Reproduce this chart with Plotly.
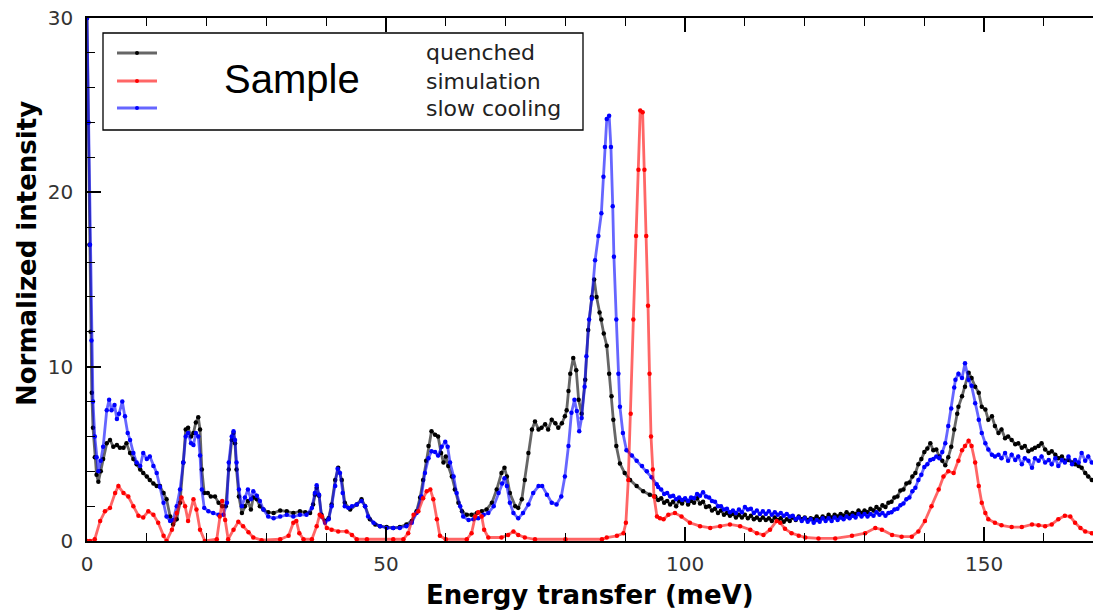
import plotly.graph_objects as go

# ---------------- data (energy transfer meV, normalized intensity) ----------------
quenched = [
    (0, 30.0), (0.2, 24.0), (0.4, 17.0), (0.6, 12.0), (0.8, 8.5), (1.0, 6.5), (1.3, 4.8), (1.6, 3.8),
    (1.9, 3.4), (2.3, 4.0), (2.7, 4.7), (3.3, 5.6), (3.85, 5.8), (4.4, 5.4), (5.0, 5.5), (5.5, 5.35),
    (6.1, 5.35), (6.6, 5.6), (7.2, 5.05), (7.75, 4.7), (8.3, 4.4), (8.9, 4.1), (9.4, 3.9), (10.0, 3.7),
    (10.5, 3.5), (11.1, 3.3), (11.65, 3.15), (12.2, 3.15), (12.8, 2.75), (13.3, 2.4), (13.9, 1.4),
    (14.4, 0.95), (15.0, 1.25), (15.55, 2.2), (16.1, 4.5), (16.5, 6.4), (16.9, 6.5), (17.4, 6.0),
    (17.8, 6.2), (18.2, 6.8), (18.6, 7.1), (18.9, 6.4), (19.2, 4.1), (19.6, 2.75), (20.2, 2.75),
    (20.7, 2.55), (21.4, 2.55), (22.0, 2.2), (22.6, 2.0), (23.2, 2.0), (23.7, 4.1), (24.2, 5.8),
    (24.5, 6.2), (24.75, 5.6), (25.0, 4.1), (25.4, 2.55), (25.9, 1.6), (26.4, 2.0), (26.9, 2.3),
    (27.4, 1.8), (27.8, 2.5), (28.4, 2.4), (28.9, 2.0), (29.5, 1.8), (30.3, 1.65), (31.2, 1.6),
    (32.3, 1.75), (33.4, 1.7), (34.5, 1.6), (35.6, 1.7), (36.5, 1.65), (37.3, 1.6), (37.8, 2.1),
    (38.1, 2.65), (38.4, 3.05), (38.8, 2.6), (39.2, 1.5), (39.8, 1.15), (40.4, 1.3), (40.9, 2.1),
    (41.5, 3.5), (42.0, 4.2), (42.6, 3.5), (43.1, 2.2), (44.0, 1.8), (45.1, 2.1), (45.9, 2.4),
    (46.5, 2.0), (47.3, 1.25), (48.2, 0.95), (49.0, 0.85), (50.1, 0.8), (51.2, 0.75), (52.3, 0.8),
    (53.4, 0.95), (54.3, 1.15), (55.1, 1.7), (55.7, 2.5), (56.2, 3.5), (56.7, 4.6), (57.1, 5.45),
    (57.6, 6.3), (58.2, 6.1), (58.7, 6.0), (59.2, 5.05), (59.6, 4.5), (60.0, 4.85), (60.4, 4.3),
    (61.0, 3.7), (61.5, 2.95), (62.1, 2.2), (62.7, 1.7), (63.5, 1.5), (64.3, 1.5), (65.2, 1.6),
    (66.0, 1.7), (66.8, 1.8), (67.7, 2.2), (68.5, 2.95), (69.3, 3.9), (69.8, 4.2), (70.2, 3.7),
    (70.7, 2.75), (71.6, 2.0), (72.1, 1.9), (72.7, 2.4), (73.2, 3.5), (73.8, 5.05), (74.4, 6.4),
    (74.9, 6.85), (75.5, 6.4), (76.0, 6.5), (76.6, 6.7), (77.1, 6.4), (77.7, 6.95), (78.3, 6.75),
    (78.8, 6.5), (79.4, 6.75), (79.9, 7.15), (80.2, 7.5), (80.5, 8.6), (80.8, 9.6), (81.3, 10.5),
    (81.8, 9.8), (82.2, 8.1), (82.7, 7.3), (83.3, 9.25), (83.8, 12.1), (84.4, 14.0), (84.8, 15.0),
    (85.2, 14.0), (85.7, 13.1), (86.0, 12.7), (86.4, 11.9), (86.9, 11.2), (87.3, 9.6), (87.7, 8.3),
    (88.0, 6.95), (88.5, 5.45), (89.1, 4.45), (89.9, 3.9), (90.8, 3.5), (91.9, 3.15), (93.0, 2.85),
    (94.1, 2.65), (95.0, 2.55), (95.5, 2.35), (96.0, 2.45), (96.5, 2.2), (97.0, 2.3), (97.5, 2.1),
    (98.0, 2.25), (98.5, 2.0), (99.0, 2.3), (99.5, 2.15), (100.0, 2.4), (100.5, 2.1), (101.0, 2.3),
    (101.5, 2.2), (102.0, 2.45), (102.5, 2.15), (103.0, 2.25), (103.5, 1.95), (104.0, 2.0),
    (104.5, 1.75), (105.0, 1.85), (105.5, 1.6), (106.0, 1.75), (106.5, 1.5), (107.0, 1.6),
    (107.5, 1.45), (108.0, 1.55), (108.5, 1.35), (109.0, 1.5), (109.5, 1.35), (110.0, 1.5),
    (110.5, 1.3), (111.0, 1.45), (111.5, 1.25), (112.0, 1.35), (112.5, 1.2), (113.0, 1.35),
    (113.5, 1.2), (114.0, 1.3), (114.5, 1.15), (115.0, 1.35), (115.5, 1.2), (116.0, 1.3),
    (116.5, 1.1), (117.0, 1.25), (117.5, 1.15), (118.0, 1.35), (118.5, 1.2), (119.0, 1.4),
    (119.5, 1.25), (120.0, 1.35), (120.5, 1.2), (121.0, 1.3), (121.5, 1.25), (122.0, 1.4),
    (122.5, 1.25), (123.0, 1.4), (123.5, 1.3), (124.0, 1.5), (124.5, 1.35), (125.0, 1.5),
    (125.5, 1.4), (126.0, 1.55), (126.5, 1.45), (127.0, 1.65), (127.5, 1.5), (128.0, 1.6),
    (128.5, 1.55), (129.0, 1.75), (129.5, 1.6), (130.0, 1.75), (130.5, 1.65), (131.0, 1.85),
    (131.5, 1.75), (132.0, 1.95), (132.5, 1.8), (133.0, 2.05), (133.5, 1.95), (134.0, 2.2),
    (134.5, 2.25), (135.0, 2.5), (135.5, 2.55), (136.0, 2.9), (136.5, 2.95), (137.0, 3.3),
    (137.5, 3.35), (138.0, 3.7), (138.5, 3.9), (139.0, 4.4), (139.5, 4.7), (140.0, 5.1),
    (140.5, 5.3), (141.0, 5.6), (141.5, 5.2), (142.0, 5.25), (142.5, 4.85), (143.0, 4.6),
    (143.5, 4.35), (144.0, 4.8), (144.5, 5.4), (145.0, 6.4), (145.5, 7.3), (145.7, 7.7),
    (146.3, 8.3), (146.8, 8.85), (147.4, 9.65), (147.9, 9.35), (148.5, 8.85), (149.1, 8.5),
    (149.6, 7.7), (150.2, 7.55), (150.7, 6.95), (151.3, 7.15), (151.8, 6.6), (152.4, 6.2),
    (152.9, 6.4), (153.5, 5.9), (154.0, 6.0), (154.6, 5.8), (155.2, 5.55), (155.7, 5.6),
    (156.3, 5.35), (156.8, 5.45), (157.4, 5.15), (158.0, 5.25), (158.5, 5.35), (159.1, 5.45),
    (159.6, 5.6), (160.2, 5.25), (160.8, 5.05), (161.3, 5.15), (161.9, 4.95), (162.4, 4.75),
    (163.0, 4.85), (163.5, 4.6), (164.1, 4.65), (164.7, 4.5), (165.2, 4.4), (165.8, 4.3),
    (166.3, 4.2), (166.9, 3.9), (167.4, 3.7), (168.0, 3.5),
]

simulation = [
    (0, 0.0), (0.5, 0.0), (1.3, 0.1), (2.2, 1.15), (3.0, 1.7), (3.85, 1.9), (4.7, 2.75), (5.25, 3.15),
    (6.1, 2.75), (6.9, 2.55), (7.75, 2.0), (8.6, 1.45), (9.4, 1.35), (10.25, 1.7), (11.1, 1.5),
    (11.9, 1.05), (12.8, 0.3), (13.3, 0.0), (14.2, 0.65), (15.0, 1.6), (15.8, 2.5), (16.4, 2.0),
    (16.9, 1.15), (17.8, 2.4), (18.3, 1.8), (18.9, 0.65), (19.7, 0.0), (21.7, 0.1), (22.2, 1.4),
    (22.6, 2.3), (23.1, 1.2), (23.6, 0.1), (24.5, 0.65), (25.3, 1.1), (26.1, 0.85), (27.0, 0.5),
    (27.8, 0.2), (29.2, 0.05), (32.3, 0.1), (33.7, 0.3), (34.5, 1.05), (35.0, 1.15), (35.5, 0.45),
    (36.2, 0.1), (37.6, 0.1), (38.4, 0.85), (38.9, 1.5), (39.3, 1.4), (40.1, 0.75), (40.9, 0.65),
    (42.0, 0.55), (43.4, 0.55), (44.3, 0.35), (45.1, 0.1), (46.8, 0.1), (51.2, 0.1), (52.9, 0.1),
    (53.7, 0.45), (54.6, 1.5), (55.4, 1.7), (56.2, 2.45), (56.8, 2.85), (57.4, 2.95), (57.9, 2.4),
    (58.5, 1.25), (59.0, 0.3), (60.0, 0.1), (63.5, 0.1), (64.3, 0.45), (64.9, 1.4), (65.4, 1.65),
    (66.0, 1.4), (66.4, 0.65), (67.1, 0.2), (69.3, 0.2), (70.4, 0.35), (71.3, 0.55), (72.1, 0.35),
    (73.2, 0.2), (74.9, 0.1), (80.0, 0.1), (86.1, 0.1), (86.9, 0.2), (88.6, 0.3), (89.7, 0.45),
    (90.1, 1.05), (90.5, 3.5), (90.9, 7.3), (91.35, 12.7), (91.8, 17.5), (92.2, 21.3), (92.5, 24.7),
    (92.9, 24.6), (93.2, 21.3), (93.5, 17.5), (93.8, 13.5), (94.05, 9.6), (94.3, 6.0), (94.6, 4.1),
    (94.8, 2.55), (95.3, 1.4), (95.8, 1.3), (96.4, 1.25), (97.2, 1.5), (98.3, 1.6), (99.4, 1.4),
    (100.8, 1.05), (102.5, 0.85), (104.2, 0.75), (105.85, 0.85), (107.5, 0.95), (109.2, 0.85),
    (110.9, 0.65), (112.0, 0.45), (113.1, 0.35), (114.2, 0.65), (115.3, 1.15), (115.9, 1.05),
    (116.7, 0.7), (117.8, 0.45), (119.0, 0.3), (120.1, 0.2), (122.3, 0.15), (125.1, 0.15),
    (127.9, 0.3), (130.1, 0.45), (131.8, 0.75), (132.9, 0.65), (134.6, 0.35), (136.2, 0.25),
    (137.9, 0.25), (139.0, 0.55), (140.1, 1.15), (141.2, 2.0), (142.4, 2.95), (143.2, 3.7),
    (144.0, 4.0), (144.9, 3.9), (145.7, 4.6), (146.3, 5.2), (146.8, 5.45), (147.4, 5.75),
    (147.9, 5.45), (148.5, 4.5), (149.1, 3.15), (149.6, 2.2), (150.2, 1.6), (150.7, 1.25),
    (151.8, 1.05), (152.9, 0.9), (154.6, 0.8), (156.3, 0.8), (158.0, 0.95), (159.1, 0.9),
    (160.2, 0.85), (161.3, 0.95), (162.4, 1.25), (163.5, 1.45), (164.4, 1.4), (165.2, 1.05),
    (166.1, 0.75), (166.9, 0.55), (168.0, 0.45),
]

slow_cooling = [
    (0, 30.0), (0.25, 24.0), (0.5, 17.0), (0.75, 11.5), (1.0, 8.0), (1.3, 6.0), (1.6, 4.8), (1.9, 4.0),
    (2.3, 4.6), (2.7, 5.4), (3.3, 7.5), (3.7, 8.1), (4.1, 7.5), (4.6, 7.8), (5.0, 7.0), (5.35, 7.3),
    (5.9, 8.0), (6.35, 7.15), (6.8, 6.2), (7.2, 5.8), (7.75, 5.05), (8.3, 4.5), (8.9, 4.3), (9.4, 5.05),
    (10.0, 4.7), (10.5, 4.85), (11.1, 4.3), (11.65, 3.9), (12.2, 3.1), (12.8, 2.2), (13.3, 1.4),
    (13.9, 1.15), (14.4, 1.2), (15.0, 2.0), (15.55, 2.95), (16.1, 4.5), (16.5, 6.0), (16.9, 6.2),
    (17.4, 5.6), (17.8, 5.5), (18.2, 6.2), (18.6, 6.0), (18.9, 4.9), (19.2, 2.95), (19.6, 1.9),
    (20.3, 1.7), (21.1, 1.6), (22.0, 1.5), (22.8, 1.5), (23.4, 2.2), (23.7, 4.5), (24.2, 6.0),
    (24.5, 6.3), (24.75, 5.8), (25.0, 4.5), (25.4, 2.95), (25.9, 2.0), (26.4, 2.5), (26.9, 2.95),
    (27.4, 2.4), (27.8, 2.85), (28.4, 2.6), (28.9, 2.3), (29.5, 1.8), (30.3, 1.4), (31.2, 1.3),
    (32.3, 1.4), (33.4, 1.5), (34.5, 1.4), (35.6, 1.5), (36.7, 1.5), (37.6, 1.9), (38.1, 2.75),
    (38.4, 3.2), (38.8, 2.65), (39.2, 1.4), (39.8, 1.05), (40.4, 1.25), (40.9, 2.0), (41.5, 3.15),
    (41.9, 4.15), (42.3, 3.9), (42.75, 2.75), (43.1, 2.0), (43.7, 1.9), (44.3, 2.0), (45.1, 2.1),
    (45.9, 2.3), (46.5, 2.0), (47.0, 1.4), (47.9, 1.05), (49.0, 0.85), (50.1, 0.75), (51.2, 0.75),
    (52.3, 0.75), (53.4, 0.85), (54.3, 1.05), (55.1, 1.6), (55.9, 2.55), (56.5, 3.9), (57.1, 4.75),
    (57.6, 5.15), (58.2, 5.1), (58.7, 4.9), (59.3, 5.4), (59.9, 5.7), (60.3, 5.4), (60.7, 4.5),
    (61.3, 3.7), (61.8, 2.75), (62.4, 2.0), (62.9, 1.4), (63.8, 1.2), (64.6, 1.25), (65.4, 1.3),
    (66.3, 1.5), (67.1, 1.6), (68.0, 2.0), (68.8, 2.75), (69.4, 3.3), (69.8, 3.6), (70.2, 3.15),
    (70.7, 2.2), (71.3, 1.6), (72.1, 1.3), (72.9, 1.6), (73.8, 2.1), (74.6, 2.75), (75.5, 3.15),
    (76.1, 3.15), (76.9, 2.65), (77.7, 2.2), (78.5, 2.1), (79.3, 2.55), (79.9, 3.7), (80.5, 5.45),
    (81.0, 7.35), (81.5, 8.1), (81.9, 7.45), (82.3, 6.3), (82.7, 7.05), (83.2, 8.85), (83.5, 10.6),
    (83.95, 12.7), (84.4, 13.9), (84.95, 16.1), (85.5, 17.5), (86.0, 18.8), (86.35, 20.9),
    (86.6, 22.6), (86.9, 24.2), (87.3, 24.4), (87.6, 22.6), (87.9, 19.2), (88.1, 16.3), (88.5, 12.7),
    (88.85, 9.6), (89.1, 7.7), (89.6, 6.2), (90.2, 5.2), (91.1, 4.9), (91.9, 4.6), (92.8, 4.3),
    (93.6, 4.0), (94.4, 3.65), (95.25, 3.25), (95.5, 3.1), (96.0, 2.95), (96.5, 2.7), (97.0, 2.75),
    (97.5, 2.55), (98.0, 2.6), (98.5, 2.4), (99.0, 2.5), (99.5, 2.35), (100.0, 2.45), (100.5, 2.3),
    (101.0, 2.5), (101.5, 2.45), (102.0, 2.7), (102.5, 2.6), (103.0, 2.8), (103.5, 2.55), (104.0, 2.5),
    (104.5, 2.3), (105.0, 2.25), (105.5, 2.0), (106.0, 2.0), (106.5, 1.8), (107.0, 1.85),
    (107.5, 1.65), (108.0, 1.75), (108.5, 1.6), (109.0, 1.8), (109.5, 1.65), (110.0, 1.95),
    (110.5, 1.8), (111.0, 1.85), (111.5, 1.6), (112.0, 1.75), (112.5, 1.55), (113.0, 1.7),
    (113.5, 1.55), (114.0, 1.7), (114.5, 1.5), (115.0, 1.65), (115.5, 1.5), (116.0, 1.6),
    (116.5, 1.45), (117.0, 1.55), (117.5, 1.4), (118.0, 1.45), (118.5, 1.25), (119.0, 1.35),
    (119.5, 1.15), (120.0, 1.3), (120.5, 1.1), (121.0, 1.25), (121.5, 1.05), (122.0, 1.2),
    (122.5, 1.1), (123.0, 1.3), (123.5, 1.15), (124.0, 1.3), (124.5, 1.15), (125.0, 1.35),
    (125.5, 1.2), (126.0, 1.35), (126.5, 1.25), (127.0, 1.4), (127.5, 1.3), (128.0, 1.45),
    (128.5, 1.35), (129.0, 1.55), (129.5, 1.4), (130.0, 1.55), (130.5, 1.4), (131.0, 1.55),
    (131.5, 1.45), (132.0, 1.65), (132.5, 1.5), (133.0, 1.6), (133.5, 1.45), (134.0, 1.6),
    (134.5, 1.65), (135.0, 1.8), (135.5, 1.85), (136.0, 2.05), (136.5, 2.15), (137.0, 2.4),
    (137.5, 2.5), (138.0, 2.85), (138.5, 3.05), (139.0, 3.5), (139.5, 3.8), (140.0, 4.25),
    (140.5, 4.4), (141.0, 4.65), (141.5, 4.7), (142.0, 4.85), (142.5, 4.75), (143.0, 5.1),
    (143.5, 5.6), (144.0, 6.6), (144.5, 7.6), (145.0, 8.8), (145.2, 9.25), (145.7, 9.6),
    (146.3, 9.35), (146.8, 10.2), (147.4, 9.25), (147.9, 8.9), (148.5, 7.9), (149.1, 6.95),
    (149.6, 6.2), (150.2, 5.6), (150.7, 5.25), (151.3, 4.95), (151.8, 4.85), (152.4, 4.95),
    (152.9, 4.75), (153.5, 5.05), (154.0, 4.6), (154.6, 4.95), (155.2, 4.65), (155.7, 4.85),
    (156.3, 4.4), (156.8, 4.75), (157.4, 4.6), (158.0, 4.2), (158.5, 4.75), (159.1, 4.6),
    (159.6, 4.85), (160.2, 4.5), (160.8, 4.65), (161.3, 4.4), (161.9, 4.75), (162.4, 4.3),
    (163.0, 4.65), (163.5, 4.5), (164.1, 4.85), (164.7, 4.4), (165.2, 4.65), (165.8, 4.5),
    (166.3, 5.05), (166.9, 4.6), (167.4, 4.85), (168.0, 4.5),
]

series_names = ["quenched", "simulation", "slow cooling"]
x_ticks = [0, 50, 100, 150]
y_ticks = [0, 10, 20, 30]

# ---------------- figure ----------------
W, H = 1093, 612
ML, MR, MT, MB = 87, 0, 18, 71

fig = go.Figure()

styles = {
    "quenched": ("rgba(0,0,0,0.6)", "#000000"),
    "slow cooling": ("rgba(0,0,255,0.6)", "#0000ff"),
    "simulation": ("rgba(255,0,0,0.6)", "#ff0000"),
}
for name, data in [("quenched", quenched), ("slow cooling", slow_cooling), ("simulation", simulation)]:
    lc, mc = styles[name]
    fig.add_trace(go.Scatter(
        x=[p[0] for p in data], y=[p[1] for p in data], name=name,
        mode="lines+markers",
        line=dict(color=lc, width=2.8),
        marker=dict(color=mc, size=4.5),
        showlegend=False,
    ))

axis_font = dict(family="DejaVu Sans, Verdana, sans-serif", size=20, color="#333333")
title_font = dict(family="DejaVu Sans, Verdana, sans-serif", size=26, color="#000000")

fig.update_layout(
    width=W, height=H,
    margin=dict(l=ML, r=MR, t=MT, b=MB, pad=0),
    paper_bgcolor="white", plot_bgcolor="white",
    xaxis=dict(
        range=[0, 168.2], tickvals=x_ticks, ticks="inside", ticklen=14, tickwidth=1.5,
        tickcolor="#000", showline=True, linecolor="#000", linewidth=1.5, mirror="allticks",
        showgrid=False, zeroline=False, tickfont=axis_font, ticklabelstandoff=4,
        minor=dict(ticks="inside", ticklen=8, dtick=10, tickcolor="#000", tickwidth=1.2, showgrid=False),
    ),
    yaxis=dict(
        range=[0, 30], tickvals=y_ticks, ticks="inside", ticklen=14, tickwidth=1.5,
        tickcolor="#000", showline=True, linecolor="#000", linewidth=1.5, mirror=False,
        showgrid=False, zeroline=False, tickfont=axis_font, ticklabelstandoff=8,
        minor=dict(ticks="inside", ticklen=8, dtick=2, tickcolor="#000", tickwidth=1.2, showgrid=False),
    ),
)

PW = W - ML - MR
PH = H - MT - MB


def px(xp):
    return (xp - ML) / PW


def py(yp):
    return (H - MB - yp) / PH


# axis titles
fig.add_annotation(xref="paper", yref="paper", x=px(590), y=py(595), text="<b>Energy transfer (meV)</b>",
                   showarrow=False, xanchor="center", yanchor="middle", font=title_font)
fig.add_annotation(xref="paper", yref="paper", x=px(27), y=py(254), text="<b>Normalized intensity</b>",
                   showarrow=False, xanchor="center", yanchor="middle", textangle=-90, font=title_font)

# legend box
fig.add_shape(type="rect", xref="paper", yref="paper",
              x0=px(103), x1=px(583), y0=py(130), y1=py(33),
              line=dict(color="#000", width=1.3), fillcolor="white", layer="above")

leg_rows = [("quenched", 53), ("simulation", 81), ("slow cooling", 108)]
for name, yy in leg_rows:
    lc, mc = styles[name]
    fig.add_shape(type="line", xref="paper", yref="paper",
                  x0=px(117), x1=px(157), y0=py(yy), y1=py(yy),
                  line=dict(color=lc, width=2.8), layer="above")
    fig.add_shape(type="circle", xref="paper", yref="paper",
                  x0=px(135), x1=px(139), y0=py(yy + 2), y1=py(yy - 2),
                  line=dict(color=mc, width=0), fillcolor=mc, layer="above")
    fig.add_annotation(xref="paper", yref="paper", x=px(424), y=py(yy), text=name,
                       showarrow=False, xanchor="left", yanchor="middle",
                       font=dict(family="DejaVu Sans, Verdana, sans-serif", size=22, color="#222222"))

fig.add_annotation(xref="paper", yref="paper", x=px(292), y=py(79), text="Sample",
                   showarrow=False, xanchor="center", yanchor="middle",
                   font=dict(family="Liberation Sans, Arial, sans-serif", size=40, color="#000000"))

fig.write_html("out.html")
